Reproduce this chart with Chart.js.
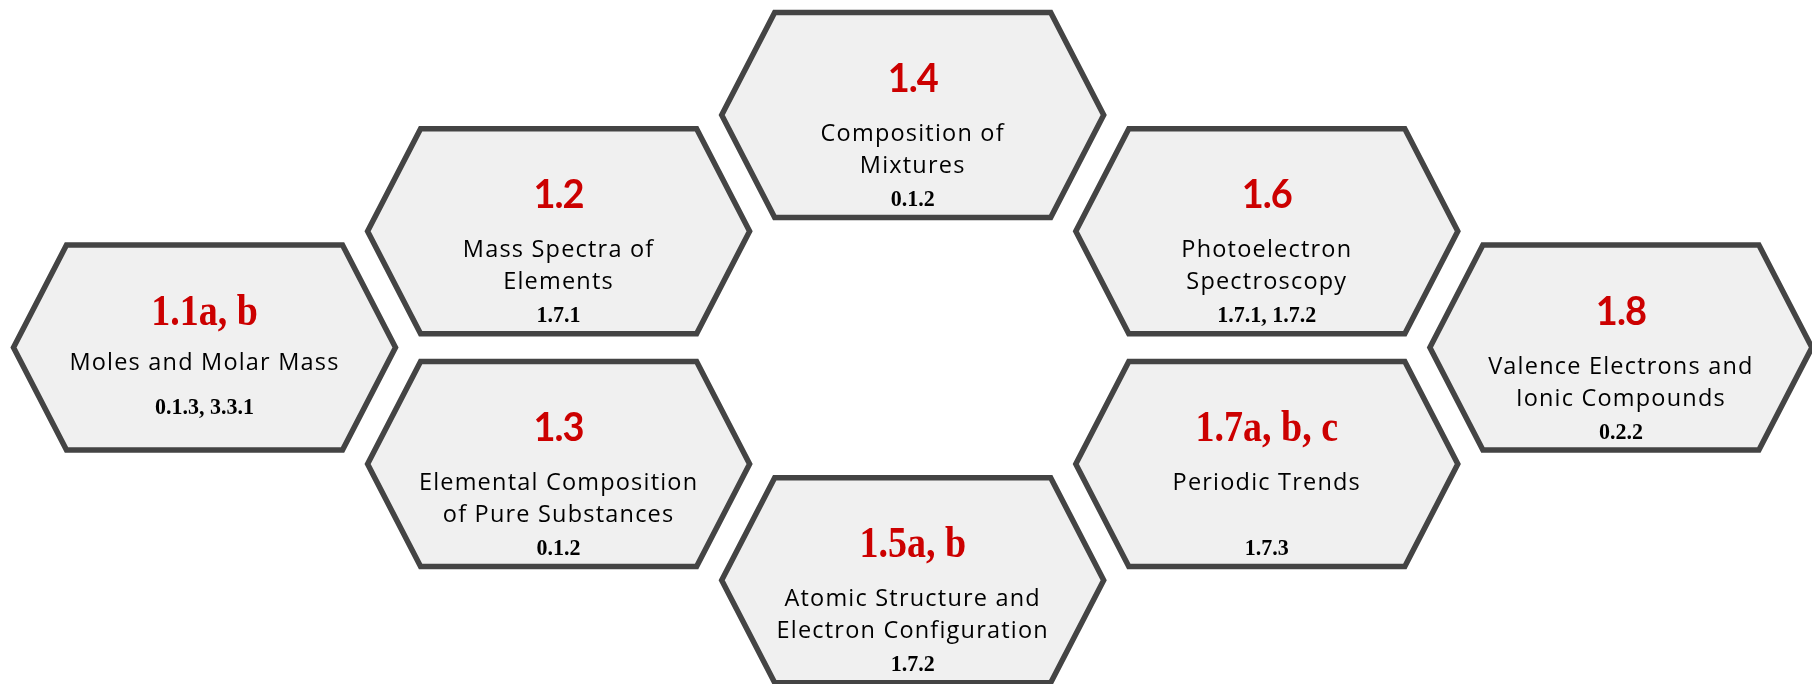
<!DOCTYPE html>
<html>
<head>
<meta charset="utf-8">
<script src="https://cdn.jsdelivr.net/npm/chart.js@4.4.1/dist/chart.umd.min.js"></script>
<style>
  html, body { margin: 0; padding: 0; background: #fff; }
  #wrap { width: 1812px; height: 684px; }
</style>
</head>
<body>
<div id="wrap"><canvas id="hexes"></canvas></div>
<script>
// topic codes, titles and standards, one entry per hexagon
const codes = ['1.1a, b', '1.2', '1.3', '1.4', '1.5a, b', '1.6', '1.7a, b, c', '1.8'];
const topics = [
  ['Moles and Molar Mass'],
  ['Mass Spectra of', 'Elements'],
  ['Elemental Composition', 'of Pure Substances'],
  ['Composition of', 'Mixtures'],
  ['Atomic Structure and', 'Electron Configuration'],
  ['Photoelectron', 'Spectroscopy'],
  ['Periodic Trends', ''],
  ['Valence Electrons and', 'Ionic Compounds']
];
const standards = ['0.1.3, 3.3.1', '1.7.1', '0.1.2', '0.1.2', '1.7.2', '1.7.1, 1.7.2', '1.7.3', '0.2.2'];
// grid cell of each hexagon (column, row)
const cols = [0, 1, 1, 2, 2, 3, 3, 4];
const rows = [2, 1, 3, 0, 4, 1, 3, 2];

const HW = 191, HH = 102.5, INSET = 53;

// text drawn with a vertical stretch, to get closer to the taller original faces
function tallText(ctx, txt, x, y, sy) {
  ctx.save();
  ctx.translate(x, y);
  ctx.scale(1, sy);
  ctx.fillText(txt, 0, 0);
  ctx.restore();
}

const hexPlugin = {
  id: 'hexCells',
  afterDatasetsDraw(chart) {
    const ctx = chart.ctx;
    const pts = chart.getDatasetMeta(0).data;
    pts.forEach((p, i) => {
      const cx = p.x, cy = p.y;
      ctx.save();
      ctx.beginPath();
      ctx.moveTo(cx - HW, cy);
      ctx.lineTo(cx - HW + INSET, cy - HH);
      ctx.lineTo(cx + HW - INSET, cy - HH);
      ctx.lineTo(cx + HW, cy);
      ctx.lineTo(cx + HW - INSET, cy + HH);
      ctx.lineTo(cx - HW + INSET, cy + HH);
      ctx.closePath();
      ctx.fillStyle = '#f0f0f0';
      ctx.fill();
      ctx.lineWidth = 5.5;
      ctx.lineJoin = 'miter';
      ctx.strokeStyle = '#444';
      ctx.stroke();

      ctx.textAlign = 'center';
      ctx.textBaseline = 'alphabetic';

      // red code
      const code = codes[i];
      ctx.fillStyle = '#cc0000';
      ctx.letterSpacing = '0px';
      if (/[a-z]/.test(code)) {
        ctx.font = 'bold 38px "Liberation Serif"';
        tallText(ctx, code, cx, cy - 23, 1.15);
      } else {
        ctx.font = 'bold 38px Lato';
        ctx.letterSpacing = '-1px';
        tallText(ctx, code, cx, cy - 23, 1.06);
      }

      // topic name
      const lines = topics[i];
      ctx.fillStyle = '#000';
      ctx.font = '23.5px "Open Sans"';
      ctx.letterSpacing = '1.2px';
      if (lines.length === 1) {
        ctx.fillText(lines[0], cx, cy + 22);
      } else {
        lines.forEach((t, k) => ctx.fillText(t, cx, cy + 26 + k * 32));
      }

      // standards
      ctx.letterSpacing = '0px';
      ctx.font = 'bold 22px "Liberation Serif"';
      tallText(ctx, standards[i], cx, cy + (lines.length === 1 ? 66 : 91), 1.08);
      ctx.restore();
    });
  }
};

new Chart(document.getElementById('hexes'), {
  type: 'scatter',
  data: {
    datasets: [{
      label: 'topics',
      data: cols.map((c, i) => ({ x: c, y: rows[i] })),
      pointRadius: 0,
      pointHoverRadius: 0
    }]
  },
  options: {
    responsive: true,
    maintainAspectRatio: false,
    animation: false,
    layout: { padding: 0, autoPadding: false },
    plugins: { legend: { display: false }, tooltip: { enabled: false } },
    scales: {
      x: { type: 'linear', min: -0.5775, max: 4.5397, display: false },
      y: { type: 'linear', min: -0.9888, max: 4.8925, reverse: true, display: false }
    }
  },
  plugins: [hexPlugin]
});
</script>
</body>
</html>
